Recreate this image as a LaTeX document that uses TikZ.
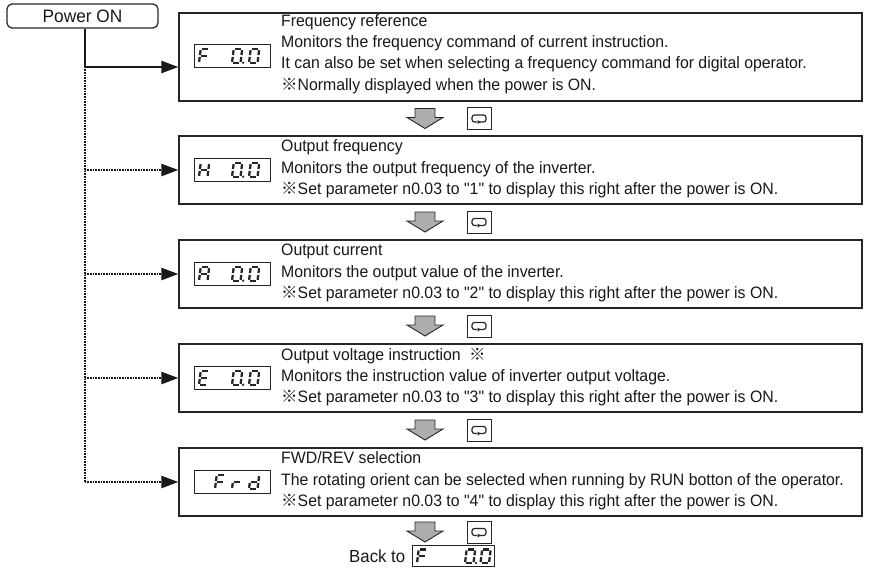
\documentclass[tikz,border=0pt]{standalone}
\usepackage{fontspec}
\setmainfont{Liberation Sans}[FakeStretch=0.96,Ligatures=TeXOff]
\newfontfamily\cjkfont{Noto Sans CJK JP}
\usetikzlibrary{arrows.meta}
\newcommand\refmark{{\cjkfont ※}}
\newcommand\qq[1]{"#1"}
% seven segment pieces (cell: width 1, height 2, y downward)
\newcommand\ssega{\draw[segline] (0.35,0)--(1.05,0);}
\newcommand\ssegb{\draw[segline] (1.185,0.14)--(1.115,0.86);}
\newcommand\ssegc{\draw[segline] (1.085,1.14)--(1.015,1.86);}
\newcommand\ssegd{\draw[segline] (0.15,2)--(0.85,2);}
\newcommand\ssege{\draw[segline] (0.085,1.14)--(0.015,1.86);}
\newcommand\ssegf{\draw[segline] (0.185,0.14)--(0.115,0.86);}
\newcommand\ssegg{\draw[segline] (0.25,1)--(0.95,1);}
\newcommand\ssegp{\fill[black!85] (1.3,2) circle (1.3pt);}
\newcommand\sevenseg[4][8.5pt]{\begin{scope}[shift={(#2,#3)},x=#1,y=-6.75pt]\foreach \s in {#4}{\csname sseg\s\endcsname}\end{scope}}
\newcommand\blockarrow[2]{\draw[line width=0.9pt,draw=black!85,fill=black!32,line join=miter]
  (#1-10,#2-10)--(#1+10,#2-10)--(#1+10,#2-1)--(#1+18,#2-1)--(#1,#2+10)--(#1-18,#2-1)--(#1-10,#2-1)--cycle;}
\newcommand\keyicon[2]{\draw[line width=1.2pt,black!85,rounded corners=2.5pt]
  (#1+1,#2+3.5)--(#1+7,#2+3.5)--(#1+7,#2-3.5)--(#1-7,#2-3.5)--(#1-7,#2+3.5)--(#1-2,#2+3.5);
  \fill[black!85] (#1-1.5,#2+1.5)--(#1+1.8,#2+3.5)--(#1-1.5,#2+5.5)--cycle;}
\tikzset{
  segline/.style={line width=2.3pt,black!85,line cap=butt},
  mainbox/.style={draw=black!85,line width=1.2pt,minimum width=683pt,inner sep=0pt},
  disp/.style={draw=black!85,line width=0.8pt,minimum width=76pt,minimum height=23pt,inner sep=0pt},
  keybox/.style={draw=black!85,line width=0.8pt,minimum width=24pt,minimum height=22pt,inner sep=0pt},
  desc/.style={anchor=west,align=left,inner sep=0pt,font=\fontsize{16.5}{21.3}\selectfont,text=black!90},
  solidarrow/.style={line width=2pt,black!90,-{Triangle[length=17pt,width=12pt]}},
  dotline/.style={line width=2.2pt,black!90,dash pattern=on 0.8pt off 0.8pt},
  dotarrow/.style={dotline,-{Triangle[length=17pt,width=12pt]}},
}
\begin{document}
\begin{tikzpicture}[x=1pt,y=-1pt]
\useasboundingbox[fill=white] (0,0) rectangle (890,578);
% Power ON
\node[draw=black!85,line width=1.2pt,rounded corners=5pt,minimum width=151pt,minimum height=24pt,inner sep=0pt,font=\fontsize{18}{20}\selectfont,text=black!90] (pwr) at (82.5,16) {Power ON};
% main boxes
\node[mainbox,minimum height=88pt] (b1) at (520.5,57) {};
\node[mainbox,minimum height=68pt] (b2) at (520.5,170) {};
\node[mainbox,minimum height=68pt] (b3) at (520.5,274) {};
\node[mainbox,minimum height=68pt] (b4) at (520.5,378) {};
\node[mainbox,minimum height=68pt] (b5) at (520.5,482) {};
% descriptions
\node[desc] (t1) at (281,54) {Frequency reference\\Monitors the frequency command of current instruction.\\It can also be set when selecting a frequency command for digital operator.\\\refmark Normally displayed when the power is ON.};
\node[desc] (t2) at (281,169) {Output frequency\\Monitors the output frequency of the inverter.\\\refmark Set parameter n0.03 to \qq{1} to display this right after the power is ON.};
\node[desc] (t3) at (281,273) {Output current\\Monitors the output value of the inverter.\\\refmark Set parameter n0.03 to \qq{2} to display this right after the power is ON.};
\node[desc] (t4) at (281,377) {Output voltage instruction\enspace\refmark\\Monitors the instruction value of inverter output voltage.\\\refmark Set parameter n0.03 to \qq{3} to display this right after the power is ON.};
\node[desc] (t5) at (281,481) {FWD/REV selection\\The rotating orient can be selected when running by RUN botton of the operator.\\\refmark Set parameter n0.03 to \qq{4} to display this right after the power is ON.};
% displays
\node[disp] (d1) at (232,56) {};
\node[disp] (d2) at (232,170) {};
\node[disp] (d3) at (232,274) {};
\node[disp] (d4) at (232,378) {};
\node[disp] (d5) at (232,482) {};
\sevenseg{199}{49.25}{a,f,e,g}
\sevenseg{232}{49.25}{a,b,c,d,e,f,p}
\sevenseg{249}{49.25}{a,b,c,d,e,f}
\sevenseg{199}{163.25}{b,c,e,f,g}
\sevenseg{232}{163.25}{a,b,c,d,e,f,p}
\sevenseg{249}{163.25}{a,b,c,d,e,f}
\sevenseg{199}{267.25}{a,b,c,e,f,g}
\sevenseg{232}{267.25}{a,b,c,d,e,f,p}
\sevenseg{249}{267.25}{a,b,c,d,e,f}
\sevenseg{199}{371.25}{a,d,e,f,g}
\sevenseg{232}{371.25}{a,b,c,d,e,f,p}
\sevenseg{249}{371.25}{a,b,c,d,e,f}
\sevenseg{215}{475.25}{a,f,e,g}
\sevenseg{232}{475.25}{e,g}
\sevenseg{249}{475.25}{b,c,d,e,g}
% connectors
\coordinate (j0) at (85,67);
\coordinate (j1) at (85,170);
\coordinate (j2) at (85,274);
\coordinate (j3) at (85,378);
\coordinate (j4) at (85,482);
\draw[line width=2pt,black!90] (pwr.south -| j0) -- (j0);
\draw[solidarrow] (j0) -- (b1.west |- j0);
\draw[dotline] (j0) -- (j4);
\draw[dotarrow] (j1) -- (b2.west |- j1);
\draw[dotarrow] (j2) -- (b3.west |- j2);
\draw[dotarrow] (j3) -- (b4.west |- j3);
\draw[dotarrow] (j4) -- (b5.west |- j4);
% step rows
\foreach \yy [count=\i] in {118.5,222,326,430,532}{
  \blockarrow{425}{\yy}
  \node[keybox] (k\i) at (479,\yy) {};
  \keyicon{479}{\yy}
}
% back to
\node[anchor=west,inner sep=0pt,font=\fontsize{17.5}{20}\selectfont,text=black!90] (back) at (349,556.5) {Back to};
\node[disp,minimum width=82pt,minimum height=21pt] (bd) at (453,556) {};
\sevenseg{417}{549.5}{a,f,e,g}
\sevenseg{465}{549.5}{a,b,c,d,e,f,p}
\sevenseg{480.5}{549.5}{a,b,c,d,e,f}
\end{tikzpicture}
\end{document}
